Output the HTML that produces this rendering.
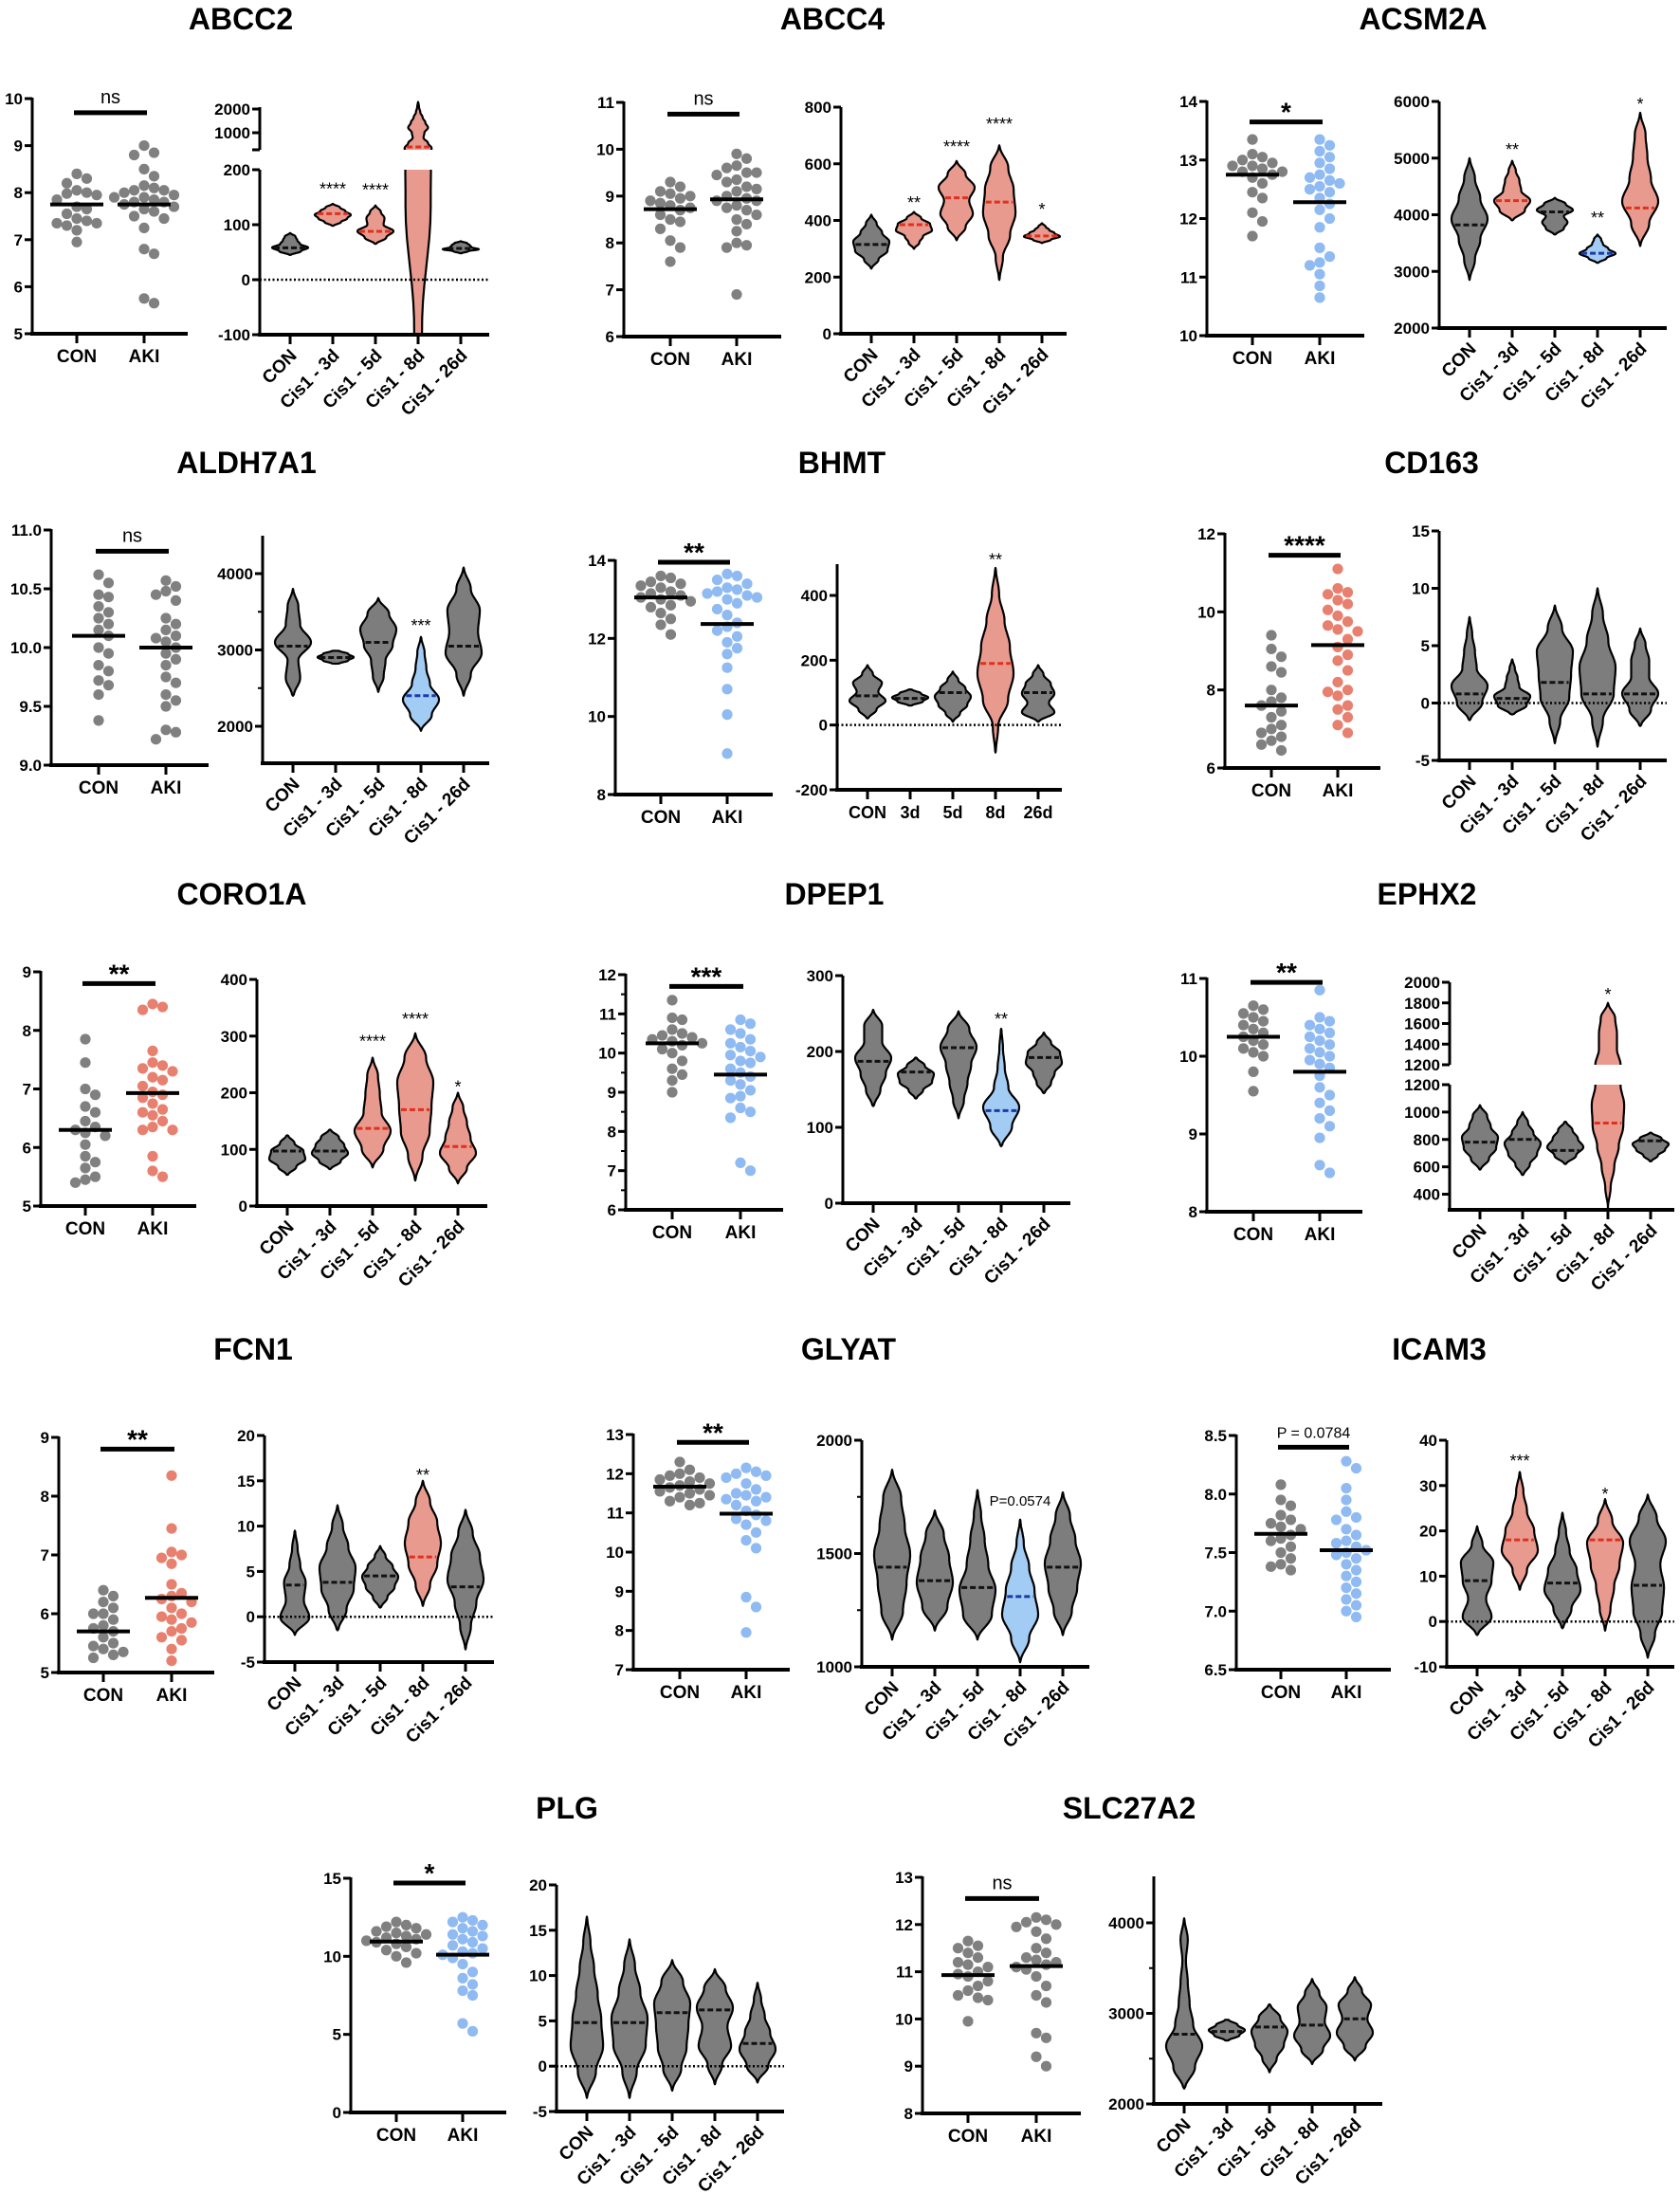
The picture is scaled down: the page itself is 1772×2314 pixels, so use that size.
<!DOCTYPE html>
<html><head><meta charset="utf-8"><title>Gene expression dot and violin plots</title>
<style>
html,body{margin:0;padding:0;background:#fff;}
svg{display:block;font-family:"Liberation Sans",Arial,sans-serif;}
</style></head>
<body>
<svg id="fig" xmlns="http://www.w3.org/2000/svg" width="1772" height="2314" viewBox="0 0 1772 2314">
<rect x="0" y="0" width="1772" height="2314" fill="#fff"/>
</svg>
<script>
// ===== DATA =====
const abcc2Con=[8.4,8.3,8.2,8.05,8.0,7.98,7.95,7.85,7.7,7.65,7.55,7.45,7.4,7.35,7.35,7.3,7.2,6.95];
const abcc2Aki=[9.0,8.85,8.8,8.5,8.35,8.15,8.1,8.05,8.05,8.0,7.95,7.9,7.9,7.85,7.8,7.8,7.75,7.7,7.65,7.6,7.5,7.45,7.25,6.8,6.7,5.75,5.65];
const abcc2Meds=[7.75,7.75];
const abcc2VLo=[45,98,65,-300,48];
const abcc2VHi=[85,138,135,2300,70];
const abcc2VMed=[58,120,88,400,57];
const abcc2VDen=[[0.05,0.6,1,0.55,0.4,0.3,0.02],[0.05,0.45,0.8,1,0.7,0.4,0.02],[0.05,0.6,1,0.45,0.5,0.3,0.02],[0.05,0.22,0.7,0.75,0.55,0.3,0.35,0.55,0.4,0.25,0.12,0.05,0.01],[0.05,0.4,1,0.6,0.5,0.35,0.02]];
const abcc2Stars=['','****','****','****',''];
const abcc2StarV=[0,170,168,2400,0];

const abcc4Con=[9.3,9.2,9.1,9.05,9.0,8.95,8.9,8.85,8.8,8.75,8.7,8.6,8.5,8.45,8.3,8.05,7.9,7.6];
const abcc4Aki=[9.9,9.8,9.65,9.6,9.5,9.5,9.45,9.35,9.3,9.2,9.15,9.1,9.0,8.95,8.9,8.9,8.8,8.75,8.7,8.6,8.5,8.4,8.25,8.0,7.95,7.9,6.9];
const abcc4Meds=[8.72,8.93];
const abcc4VLo=[230,300,330,190,320];
const abcc4VHi=[420,430,610,665,390];
const abcc4VMed=[315,385,480,465,345];
const abcc4VDen=[[0.02,0.4,0.9,1,0.6,0.3,0.02],[0.02,0.3,0.5,1,0.9,0.4,0.02],[0.02,0.5,0.9,0.7,1,0.5,0.02],[0.02,0.2,0.6,0.9,0.8,0.5,0.02],[0.02,0.5,1,0.7,0.4,0.2,0.02]];
const abcc4Stars=['','**','****','****','*'];
const abcc4StarV=[0,472,670,750,448];

const acsm2aCon=[13.35,13.1,13.05,13.0,12.95,12.9,12.9,12.85,12.8,12.8,12.75,12.7,12.6,12.45,12.35,12.1,11.95,11.7];
const acsm2aAki=[13.35,13.25,13.15,13.05,12.95,12.85,12.75,12.7,12.65,12.6,12.55,12.5,12.45,12.35,12.25,12.15,12.0,11.85,11.5,11.35,11.25,11.2,11.05,10.85,10.65];
const acsm2aMeds=[12.75,12.28];
const acsm2aVLo=[2850,3900,3650,3150,3450];
const acsm2aVHi=[5000,4950,4300,3650,5800];
const acsm2aVMed=[3820,4250,4050,3320,4120];
const acsm2aVDen=[[0.02,0.3,0.6,1,0.6,0.3,0.02],[0.05,0.7,1,0.5,0.4,0.2,0.02],[0.05,0.5,0.7,0.5,1,0.6,0.02],[0.05,0.5,1,0.6,0.3,0.2,0.02],[0.02,0.5,1,0.6,0.4,0.3,0.02]];
const acsm2aStars=['','**','','**','*'];
const acsm2aStarV=[0,5197,0,3990,6000];

const aldh7a1Con=[10.62,10.55,10.45,10.43,10.35,10.3,10.25,10.2,10.1,10.0,9.95,9.85,9.8,9.72,9.68,9.6,9.38,10.15];
const aldh7a1Aki=[10.57,10.52,10.48,10.45,10.4,10.25,10.2,10.15,10.1,10.08,10.05,10.0,9.95,9.9,9.85,9.75,9.7,9.6,9.55,9.5,9.3,9.28,9.22];
const aldh7a1Meds=[10.1,10.0];
const aldh7a1VLo=[2400,2820,2450,1940,2400];
const aldh7a1VHi=[3800,2990,3680,3170,4080];
const aldh7a1VMed=[3050,2900,3100,2400,3050];
const aldh7a1VDen=[[0.05,0.4,0.3,1,0.4,0.3,0.02],[0.2,0.7,1,0.7,0.2],[0.02,0.3,0.4,0.8,1,0.6,0.02],[0.02,0.6,1,0.5,0.3,0.2,0.02],[0.02,0.4,1,0.8,0.9,0.4,0.02]];
const aldh7a1Stars=['','','','***',''];
const aldh7a1StarV=[0,0,0,3354,0];

const bhmtCon=[13.6,13.55,13.45,13.4,13.35,13.3,13.2,13.15,13.1,13.05,13.0,12.95,12.85,12.8,12.65,12.5,12.35,12.1];
const bhmtAki=[13.65,13.6,13.5,13.4,13.3,13.25,13.2,13.15,13.1,13.05,13.0,12.9,12.75,12.6,12.4,12.3,12.2,12.05,11.9,11.75,11.6,11.25,10.7,10.05,9.05];
const bhmtMeds=[13.05,12.37];
const bhmtVLo=[20,60,10,-85,10];
const bhmtVHi=[185,110,165,485,185];
const bhmtVMed=[90,82,100,190,100];
const bhmtVDen=[[0.05,0.5,1,0.6,0.8,0.3,0.02],[0.1,0.7,1,0.6,0.1],[0.02,0.4,0.8,1,0.7,0.3,0.02],[0.02,0.15,0.7,1,0.8,0.5,0.2,0.02],[0.05,0.9,0.6,0.9,0.7,0.3,0.02]];
const bhmtStars=['','','','**',''];
const bhmtStarV=[0,0,0,518,0];

const cd163Con=[9.4,9.05,8.85,8.6,8.45,8.0,7.8,7.7,7.6,7.45,7.3,7.1,7.0,6.9,6.8,6.7,6.6,6.45];
const cd163Aki=[11.1,10.6,10.5,10.45,10.3,10.2,10.05,9.9,9.75,9.65,9.55,9.5,9.3,9.1,8.9,8.75,8.5,8.2,8.0,7.95,7.85,7.6,7.5,7.3,7.1,6.9];
const cd163Meds=[7.6,9.15];
const cd163VLo=[-1.5,-1,-3.5,-3.8,-2];
const cd163VHi=[7.5,3.8,8.5,10,6.5];
const cd163VMed=[0.8,0.4,1.8,0.8,0.8];
const cd163VDen=[[0.05,0.7,1,0.4,0.3,0.15,0.02],[0.1,0.8,1,0.4,0.3,0.15,0.02],[0.02,0.3,0.8,0.9,1,0.4,0.02],[0.02,0.3,0.9,1,0.6,0.3,0.02],[0.05,0.6,1,0.5,0.5,0.3,0.02]];
const cd163Stars=['','','','',''];
const cd163StarV=[0,0,0,0,0];

const coro1aCon=[7.85,7.45,7.0,6.9,6.7,6.6,6.45,6.35,6.3,6.25,6.2,6.05,5.85,5.75,5.65,5.5,5.45,5.4];
const coro1aAki=[8.45,8.4,8.35,7.65,7.45,7.4,7.35,7.3,7.2,7.15,7.05,6.95,6.9,6.85,6.75,6.65,6.6,6.55,6.45,6.35,6.3,6.3,5.85,5.6,5.5];
const coro1aMeds=[6.3,6.93];
const coro1aVLo=[55,65,68,45,40];
const coro1aVHi=[125,135,262,305,200];
const coro1aVMed=[97,97,137,170,105];
const coro1aVDen=[[0.05,0.5,1,0.9,0.4,0.05],[0.05,0.6,1,0.8,0.5,0.05],[0.02,0.6,1,0.5,0.4,0.3,0.02],[0.02,0.4,0.8,0.9,1,0.6,0.02],[0.02,0.5,1,0.7,0.5,0.3,0.02]];
const coro1aStars=['','','****','****','*'];
const coro1aStarV=[0,0,295,335,215];

const dpep1Con=[11.35,10.9,10.85,10.6,10.5,10.45,10.4,10.35,10.3,10.25,10.2,10.1,10.0,9.8,9.6,9.45,9.3,9.0];
const dpep1Aki=[10.85,10.75,10.6,10.5,10.35,10.25,10.15,10.05,9.95,9.9,9.8,9.75,9.6,9.5,9.4,9.3,9.2,9.05,8.9,8.85,8.6,8.5,8.35,7.2,7.0];
const dpep1Meds=[10.25,9.45];
const dpep1VLo=[128,138,112,75,145];
const dpep1VHi=[255,192,253,230,225];
const dpep1VMed=[187,173,205,122,192];
const dpep1VDen=[[0.05,0.4,0.7,1,0.5,0.5,0.02],[0.05,0.4,0.9,1,0.5,0.05],[0.02,0.3,0.5,0.7,1,0.6,0.02],[0.05,0.6,1,0.4,0.2,0.1,0.02],[0.05,0.4,0.6,1,0.9,0.4,0.02]];
const dpep1Stars=['','','','**',''];
const dpep1StarV=[0,0,0,246,0];

const ephx2Con=[10.65,10.6,10.55,10.5,10.45,10.4,10.35,10.3,10.25,10.2,10.15,10.1,10.05,10.0,9.8,9.55];
const ephx2Aki=[10.85,10.5,10.45,10.4,10.35,10.3,10.25,10.2,10.15,10.1,10.05,10.0,9.95,9.9,9.85,9.75,9.6,9.5,9.4,9.3,9.2,9.1,8.95,8.6,8.5];
const ephx2Meds=[10.25,9.8];
const ephx2VLo=[580,540,620,300,640];
const ephx2VHi=[1050,1000,930,1800,850];
const ephx2VMed=[780,800,720,920,790];
const ephx2VDen=[[0.05,0.5,0.9,1,0.6,0.4,0.02],[0.05,0.4,0.8,1,0.6,0.3,0.02],[0.05,0.6,1,0.7,0.4,0.05],[0.0,0.15,0.35,0.6,0.85,0.9,0.7,0.5,0.5,0.4,0.02],[0.05,0.4,0.8,1,0.6,0.05]];
const ephx2Stars=['','','','*',''];
const ephx2StarV=[0,0,0,1908,0];

const fcn1Con=[6.4,6.3,6.2,6.1,6.0,6.0,5.9,5.8,5.75,5.7,5.6,5.5,5.45,5.4,5.35,5.3,5.25];
const fcn1Aki=[8.35,7.45,7.05,7.0,6.95,6.85,6.5,6.35,6.3,6.25,6.2,6.1,6.0,5.95,5.9,5.85,5.75,5.7,5.6,5.55,5.4,5.2];
const fcn1Meds=[5.7,6.27];
const fcn1VLo=[-2,-1.5,1,1.2,-3.6];
const fcn1VHi=[9.5,12.3,7.8,15,11.8];
const fcn1VMed=[3.5,3.8,4.5,6.6,3.3];
const fcn1VDen=[[0.02,0.8,0.5,0.6,0.3,0.15,0.02],[0.05,0.5,0.9,1,0.6,0.3,0.02],[0.05,0.4,0.8,1,0.7,0.3,0.02],[0.02,0.4,0.8,1,0.8,0.4,0.02],[0.02,0.3,0.6,1,0.8,0.4,0.02]];
const fcn1Stars=['','','','**',''];
const fcn1StarV=[0,0,0,15.9,0];

const glyatCon=[12.3,12.1,12.0,11.95,11.9,11.85,11.8,11.75,11.7,11.65,11.6,11.55,11.5,11.45,11.4,11.3,11.25,11.2];
const glyatAki=[12.15,12.05,12.0,11.95,11.9,11.75,11.6,11.5,11.45,11.4,11.35,11.3,11.2,11.05,10.95,10.85,10.8,10.7,10.5,10.3,10.1,8.85,8.6,7.95];
const glyatMeds=[11.67,10.98];
const glyatVLo=[1120,1160,1120,1020,1140];
const glyatVHi=[1870,1690,1780,1650,1770];
const glyatVMed=[1440,1380,1350,1310,1440];
const glyatVDen=[[0.02,0.6,0.8,1,0.7,0.5,0.02],[0.02,0.7,1,0.8,0.5,0.02],[0.02,0.8,1,0.6,0.4,0.2,0.02],[0.02,0.5,1,0.8,0.5,0.2,0.02],[0.02,0.5,0.8,1,0.7,0.4,0.02]];
const glyatStars=['','','','P=0.0574',''];
const glyatStarV=[0,0,0,1732,0];

const icam3Con=[8.08,7.95,7.9,7.82,7.78,7.75,7.72,7.7,7.65,7.62,7.6,7.55,7.5,7.45,7.4,7.38,7.35];
const icam3Aki=[8.28,8.22,8.05,7.95,7.85,7.8,7.78,7.7,7.65,7.6,7.58,7.55,7.52,7.5,7.48,7.45,7.4,7.35,7.3,7.25,7.2,7.15,7.1,7.05,7.0,6.95];
const icam3Meds=[7.66,7.52];
const icam3VLo=[-3,7,-1.5,-2,-8];
const icam3VHi=[21,33,24,27,28];
const icam3VMed=[9,18,8.5,18,8];
const icam3VDen=[[0.05,0.8,0.5,0.8,0.9,0.3,0.02],[0.02,0.4,1,0.8,0.4,0.2,0.02],[0.05,0.5,1,0.8,0.4,0.2,0.02],[0.02,0.3,0.5,0.8,1,0.4,0.02],[0.02,0.4,0.8,0.9,0.7,1,0.5,0.02]];
const icam3Stars=['','***','','*',''];
const icam3StarV=[0,36,0,28.7,0];

const plgCon=[12.2,12.0,11.9,11.8,11.6,11.5,11.4,11.3,11.2,11.1,11.0,10.9,10.8,10.6,10.4,10.2,10.0,9.6];
const plgAki=[12.5,12.3,12.2,12.0,11.8,11.6,11.4,11.3,11.1,10.9,10.7,10.5,10.3,10.2,10.1,9.9,9.5,9.0,8.6,8.2,7.8,7.5,5.7,5.2];
const plgMeds=[10.95,10.1];
const plgVLo=[-3.5,-3.5,-2.7,-2,-1.8];
const plgVHi=[16.5,14,11.7,10.7,9.2];
const plgVMed=[4.8,4.8,5.9,6.2,2.5];
const plgVDen=[[0.02,0.5,0.9,0.8,0.6,0.4,0.2,0.02],[0.02,0.4,0.9,1,0.6,0.3,0.02],[0.02,0.5,0.8,0.9,1,0.6,0.02],[0.02,0.4,0.9,0.7,1,0.6,0.02],[0.02,0.6,1,0.7,0.4,0.2,0.02]];
const plgStars=['','','','',''];
const plgStarV=[0,0,0,0,0];

const slc27a2Con=[11.65,11.55,11.5,11.4,11.3,11.2,11.15,11.1,11.0,10.95,10.9,10.8,10.7,10.6,10.5,10.45,10.4,9.95];
const slc27a2Aki=[12.15,12.1,12.05,12.0,11.95,11.85,11.7,11.5,11.4,11.3,11.25,11.2,11.15,11.1,11.05,10.9,10.7,10.5,10.35,9.7,9.6,9.2,9.0];
const slc27a2Meds=[10.93,11.12];
const slc27a2VLo=[2170,2700,2350,2440,2480];
const slc27a2VHi=[4050,2930,3100,3380,3400];
const slc27a2VMed=[2770,2800,2850,2870,2940];
const slc27a2VDen=[[0.05,0.6,1,0.5,0.3,0.2,0.1,0.2,0.02],[0.1,0.7,1,0.6,0.1],[0.02,0.4,0.8,1,0.6,0.05],[0.02,0.6,1,0.7,0.8,0.4,0.02],[0.02,0.6,1,0.7,0.9,0.4,0.02]];
const slc27a2Stars=['','','','',''];
const slc27a2StarV=[0,0,0,0,0];

const catLabels=['CON','Cis1 - 3d','Cis1 - 5d','Cis1 - 8d','Cis1 - 26d'];
const catLabelsShort=['CON','3d','5d','8d','26d'];
const sigTexts=['ns','ns','*','ns','**','****','**','***','**','**','**','P = 0.0784','*','ns'];

// ===== LAYOUT =====
const COL={g:'#808080',b:'#8fbaf2',r:'#e8806f'};
const VFILL={g:'#7d7d7d',b:'#a3ccf5',r:'#e99a8f'};
const VMEDC={g:'#111',b:'#1c3aa6',r:'#e0301e'};
function T(a){return a.map(v=>[v,String(v)]);}
function TF(a){return a.map(v=>[v,v.toFixed(1)]);}

const PANELS=[
{n:'abcc2',title:'ABCC2',tx:254,ty:20,
 dot:{ax:34,xe:198,cx:[81,152],v0:5,v1:10,p0:352,p1:104,ticks:T([5,6,7,8,9,10]),minor:[],cols:['g','g'],bar:9.7},
 data:[abcc2Con,abcc2Aki,abcc2Meds,abcc2VLo,abcc2VHi,abcc2VMed,abcc2VDen,abcc2Stars,abcc2StarV],
 vio:{ax:274,xe:516,p0:353,segs:[{v0:-100,v1:200,p0:353,p1:179,cb:353,ct:179},{v0:280,v1:2000,p0:158,p1:115,cb:158,ct:95}],
  axis:[[353,179],[158,113]],ticks:[[-100,'-100'],[0,'0'],[100,'100'],[200,'200'],[1000,'1000'],[2000,'2000'],[280,'']],minor:[],zero:true,cols:'grrrg',labels:catLabels}},
{n:'abcc4',title:'ABCC4',tx:878,ty:20,
 dot:{ax:658,xe:824,cx:[707,777],v0:6,v1:11,p0:355,p1:108,ticks:T([6,7,8,9,10,11]),minor:[],cols:['g','g'],bar:10.75},
 data:[abcc4Con,abcc4Aki,abcc4Meds,abcc4VLo,abcc4VHi,abcc4VMed,abcc4VDen,abcc4Stars,abcc4StarV],
 vio:{ax:887,xe:1125,p0:352,segs:[{v0:0,v1:800,p0:352,p1:113,cb:352,ct:60}],axis:[[352,113]],ticks:T([0,200,400,600,800]),minor:[],zero:false,cols:'grrrr',labels:catLabels}},
{n:'acsm2a',title:'ACSM2A',tx:1501,ty:20,
 dot:{ax:1273,xe:1439,cx:[1321,1392],v0:10,v1:14,p0:354,p1:107,ticks:T([10,11,12,13,14]),minor:[],cols:['g','b'],bar:13.65},
 data:[acsm2aCon,acsm2aAki,acsm2aMeds,acsm2aVLo,acsm2aVHi,acsm2aVMed,acsm2aVDen,acsm2aStars,acsm2aStarV],
 vio:{ax:1518,xe:1758,p0:346,segs:[{v0:2000,v1:6000,p0:346,p1:107,cb:346,ct:60}],axis:[[346,107]],ticks:T([2000,3000,4000,5000,6000]),minor:[],zero:false,cols:'grgbr',labels:catLabels}},
{n:'aldh7a1',title:'ALDH7A1',tx:260,ty:488,
 dot:{ax:54,xe:220,cx:[104,175],v0:9,v1:11,p0:807,p1:559,ticks:TF([9,9.5,10,10.5,11]),minor:[],cols:['g','g'],bar:10.82},
 data:[aldh7a1Con,aldh7a1Aki,aldh7a1Meds,aldh7a1VLo,aldh7a1VHi,aldh7a1VMed,aldh7a1VDen,aldh7a1Stars,aldh7a1StarV],
 vio:{ax:277,xe:516,p0:805,segs:[{v0:2000,v1:4000,p0:766,p1:605,cb:805,ct:540}],axis:[[805,565]],ticks:T([2000,3000,4000]),minor:[2500,3500],zero:false,cols:'gggbg',labels:catLabels}},
{n:'bhmt',title:'BHMT',tx:888,ty:488,
 dot:{ax:649,xe:815,cx:[697,767],v0:8,v1:14,p0:838,p1:591,ticks:T([8,10,12,14]),minor:[],cols:['g','b'],bar:13.95},
 data:[bhmtCon,bhmtAki,bhmtMeds,bhmtVLo,bhmtVHi,bhmtVMed,bhmtVDen,bhmtStars,bhmtStarV],
 vio:{ax:883,xe:1120,p0:833,segs:[{v0:-200,v1:400,p0:833,p1:628,cb:833,ct:560}],axis:[[833,595]],ticks:T([-200,0,200,400]),minor:[],zero:true,cols:'gggrg',labels:catLabelsShort,flat:true}},
{n:'cd163',title:'CD163',tx:1510,ty:488,
 dot:{ax:1292,xe:1456,cx:[1341,1411],v0:6,v1:12,p0:810,p1:563,ticks:T([6,8,10,12]),minor:[],cols:['g','r'],bar:11.45},
 data:[cd163Con,cd163Aki,cd163Meds,cd163VLo,cd163VHi,cd163VMed,cd163VDen,cd163Stars,cd163StarV],
 vio:{ax:1518,xe:1758,p0:802,segs:[{v0:-5,v1:15,p0:802,p1:560,cb:802,ct:520}],axis:[[802,560]],ticks:T([-5,0,5,10,15]),minor:[],zero:true,cols:'ggggg',labels:catLabels}},
{n:'coro1a',title:'CORO1A',tx:255,ty:943,
 dot:{ax:43,xe:207,cx:[90,161],v0:5,v1:9,p0:1272,p1:1025,ticks:T([5,6,7,8,9]),minor:[],cols:['g','r'],bar:8.8},
 data:[coro1aCon,coro1aAki,coro1aMeds,coro1aVLo,coro1aVHi,coro1aVMed,coro1aVDen,coro1aStars,coro1aStarV],
 vio:{ax:271,xe:514,p0:1272,segs:[{v0:0,v1:400,p0:1272,p1:1033,cb:1272,ct:990}],axis:[[1272,1033]],ticks:T([0,100,200,300,400]),minor:[],zero:false,cols:'ggrrr',labels:catLabels}},
{n:'dpep1',title:'DPEP1',tx:880,ty:943,
 dot:{ax:660,xe:826,cx:[709,781],v0:6,v1:12,p0:1276,p1:1028,ticks:T([6,7,8,9,10,11,12]),minor:[6.5,7.5,8.5,9.5,10.5,11.5],cols:['g','b'],bar:11.7},
 data:[dpep1Con,dpep1Aki,dpep1Meds,dpep1VLo,dpep1VHi,dpep1VMed,dpep1VDen,dpep1Stars,dpep1StarV],
 vio:{ax:889,xe:1129,p0:1269,segs:[{v0:0,v1:300,p0:1269,p1:1029,cb:1269,ct:990}],axis:[[1269,1029]],ticks:T([0,100,200,300]),minor:[],zero:false,cols:'gggbg',labels:catLabels}},
{n:'ephx2',title:'EPHX2',tx:1505,ty:943,
 dot:{ax:1273,xe:1437,cx:[1322,1392],v0:8,v1:11,p0:1278,p1:1032,ticks:T([8,9,10,11]),minor:[],cols:['g','b'],bar:10.95},
 data:[ephx2Con,ephx2Aki,ephx2Meds,ephx2VLo,ephx2VHi,ephx2VMed,ephx2VDen,ephx2Stars,ephx2StarV],
 vio:{ax:1529,xe:1766,p0:1276,segs:[{v0:300,v1:1200,p0:1274,p1:1144,cb:1276,ct:1144},{v0:1200,v1:2000,p0:1123,p1:1036,cb:1123,ct:1000}],
  axis:[[1276,1144],[1123,1036]],ticks:T([400,600,800,1000,1200]).concat([[1200.0001,'1200'],[1400,'1400'],[1600,'1600'],[1800,'1800'],[2000,'2000']]),minor:[],zero:false,cols:'gggrg',labels:catLabels}},
{n:'fcn1',title:'FCN1',tx:267,ty:1423,
 dot:{ax:62,xe:226,cx:[109,181],v0:5,v1:9,p0:1764,p1:1516,ticks:T([5,6,7,8,9]),minor:[],cols:['g','r'],bar:8.8},
 data:[fcn1Con,fcn1Aki,fcn1Meds,fcn1VLo,fcn1VHi,fcn1VMed,fcn1VDen,fcn1Stars,fcn1StarV],
 vio:{ax:279,xe:521,p0:1753,segs:[{v0:-5,v1:20,p0:1753,p1:1514,cb:1753,ct:1470}],axis:[[1753,1514]],ticks:T([-5,0,5,10,15,20]),minor:[],zero:true,cols:'gggrg',labels:catLabels}},
{n:'glyat',title:'GLYAT',tx:895,ty:1423,
 dot:{ax:668,xe:833,cx:[717,787],v0:7,v1:13,p0:1761,p1:1513,ticks:T([7,8,9,10,11,12,13]),minor:[],cols:['g','b'],bar:12.8},
 data:[glyatCon,glyatAki,glyatMeds,glyatVLo,glyatVHi,glyatVMed,glyatVDen,glyatStars,glyatStarV],
 vio:{ax:909,xe:1149,p0:1758,segs:[{v0:1000,v1:2000,p0:1758,p1:1519,cb:1758,ct:1470}],axis:[[1758,1519]],ticks:T([1000,1500,2000]),minor:[1250,1750],zero:false,cols:'gggbg',labels:catLabels}},
{n:'icam3',title:'ICAM3',tx:1518,ty:1423,
 dot:{ax:1304,xe:1467,cx:[1351,1420],v0:6.5,v1:8.5,p0:1761,p1:1514,ticks:TF([6.5,7,7.5,8,8.5]),minor:[],cols:['g','b'],bar:8.4},
 data:[icam3Con,icam3Aki,icam3Meds,icam3VLo,icam3VHi,icam3VMed,icam3VDen,icam3Stars,icam3StarV],
 vio:{ax:1526,xe:1766,p0:1758,segs:[{v0:-10,v1:40,p0:1758,p1:1519,cb:1758,ct:1470}],axis:[[1758,1519]],ticks:T([-10,0,10,20,30,40]),minor:[],zero:true,cols:'grgrg',labels:catLabels}},
{n:'plg',title:'PLG',tx:598,ty:1907,
 dot:{ax:370,xe:534,cx:[418,488],v0:0,v1:15,p0:2228,p1:1981,ticks:T([0,5,10,15]),minor:[],cols:['g','b'],bar:14.7},
 data:[plgCon,plgAki,plgMeds,plgVLo,plgVHi,plgVMed,plgVDen,plgStars,plgStarV],
 vio:{ax:587,xe:827,p0:2227,segs:[{v0:-5,v1:20,p0:2227,p1:1988,cb:2227,ct:1950}],axis:[[2227,1988]],ticks:T([-5,0,5,10,15,20]),minor:[],zero:true,cols:'ggggg',labels:catLabels}},
{n:'slc27a2',title:'SLC27A2',tx:1191,ty:1907,
 dot:{ax:973,xe:1140,cx:[1021,1093],v0:8,v1:13,p0:2229,p1:1980,ticks:T([8,9,10,11,12,13]),minor:[],cols:['g','g'],bar:12.55},
 data:[slc27a2Con,slc27a2Aki,slc27a2Meds,slc27a2VLo,slc27a2VHi,slc27a2VMed,slc27a2VDen,slc27a2Stars,slc27a2StarV],
 vio:{ax:1217,xe:1458,p0:2219,segs:[{v0:2000,v1:4000,p0:2219,p1:2028,cb:2219,ct:1950}],axis:[[2219,1979]],ticks:T([2000,3000,4000]),minor:[2500,3500],zero:false,cols:'ggggg',labels:catLabels}}
];

// ===== DRAWING =====
const NS='http://www.w3.org/2000/svg';
const svg=document.getElementById('fig');
function mk(tag,attrs,parent){const e=document.createElementNS(NS,tag);for(const k in attrs)e.setAttribute(k,attrs[k]);parent.appendChild(e);return e;}
function lin(v0,v1,p0,p1){return v=>p0+(v-v0)*(p1-p0)/(v1-v0);}
function segFor(segs,v){for(const s of segs){if(v>=s.v0&&v<=s.v1)return s;}return segs[0];}
function densAt(den,lo,hi,v){const n=den.length;let t=(v-lo)/(hi-lo)*(n-1);if(t<=0)return den[0]*0.3;if(t>=n-1)return den[n-1]*0.3;const i=Math.floor(t),f=t-i;const c=(1-Math.cos(f*Math.PI))/2;return den[i]*(1-c)+den[i+1]*c;}
let clipId=0;
const HW=19;

PANELS.forEach((P,pi)=>{
  const [conV,akiV,meds,vLo,vHi,vMed,vDen,stars,starV]=P.data;
  const g=mk('g',{},svg);
  
  
  const t=mk('text',{x:P.tx,y:P.ty+11,'text-anchor':'middle','font-size':32,'font-weight':'bold',fill:'#000'},g);
  t.textContent=P.title;
  
  

  // ---- dot plot ----
  const D=P.dot;const y=lin(D.v0,D.v1,D.p0,D.p1);
  const dg=mk('g',{},g);
  
  
  const ya=mk('line',{x1:D.ax,y1:D.p1-1,x2:D.ax,y2:D.p0,stroke:'#000','stroke-width':3},dg);
  
  
  D.ticks.forEach(([v,l])=>{
    const ty=y(v);
    const tk=mk('line',{x1:D.ax-8,y1:ty,x2:D.ax,y2:ty,stroke:'#000','stroke-width':3},dg);
    
    
    const tl=mk('text',{x:D.ax-10,y:ty+6,'text-anchor':'end','font-size':17,'font-weight':'bold'},dg);
    tl.textContent=l;
    
    
  });
  D.minor.forEach(v=>{
    const tk=mk('line',{x1:D.ax-5,y1:y(v),x2:D.ax,y2:y(v),stroke:'#000','stroke-width':2},dg);
    
    
  });
  const xa=mk('line',{x1:D.ax-2,y1:D.p0,x2:D.xe,y2:D.p0,stroke:'#000','stroke-width':4},dg);
  
  
  ['CON','AKI'].forEach((lab,k)=>{
    const cx=D.cx[k];
    const tk=mk('line',{x1:cx,y1:D.p0,x2:cx,y2:D.p0+10,stroke:'#000','stroke-width':3},dg);
    
    
    const tl=mk('text',{x:cx,y:D.p0+30,'text-anchor':'middle','font-size':19,'font-weight':'bold'},dg);
    tl.textContent=lab;
    
    
    const vals=(k===0?conV:akiV).slice().sort((a,b)=>b-a);
    const placed=[];
    vals.forEach(v=>{
      const py=y(v);let px=cx;
      for(let s=0;s<12;s++){
        const off=(s===0?0:(s%2?1:-1)*Math.ceil(s/2))*10.5;
        const ok=placed.every(p=>Math.hypot(p[0]-(cx+off),p[1]-py)>=10.5);
        if(ok){px=cx+off;break;}
      }
      placed.push([px,py]);
      const c=mk('circle',{cx:px,cy:py,r:5.6,fill:COL[D.cols[k]]},dg);
      
      
    });
    const ml=mk('line',{x1:cx-28,y1:y(meds[k]),x2:cx+28,y2:y(meds[k]),stroke:'#000','stroke-width':4},dg);
    
    
  });
  const by=y(D.bar);
  const sb=mk('line',{x1:D.cx[0]-3,y1:by,x2:D.cx[1]+3,y2:by,stroke:'#000','stroke-width':5},dg);
  
  
  const stxt=sigTexts[pi];
  const isStar=stxt.indexOf('*')===0;
  const st=mk('text',{x:(D.cx[0]+D.cx[1])/2,y:isStar?by-1:by-10,'text-anchor':'middle','font-size':isStar?28:(stxt==='ns'?20:16),'font-weight':isStar?'bold':'normal'},dg);
  st.textContent=stxt;
  
  

  // ---- violin plot ----
  const V=P.vio;
  const vg=mk('g',{},g);
  
  
  const segs=V.segs.map(s=>Object.assign({},s,{f:lin(s.v0,s.v1,s.p0,s.p1)}));
  const vy=v=>segFor(segs,v).f(v);
  const cats=[0,1,2,3,4].map(i=>V.ax+32+45*i);
  for(let i=0;i<5;i++){
    const lo=vLo[i],hi=vHi[i],den=vDen[i],cx=cats[i],ck=V.cols[i];
    segs.forEach(s=>{
      const id='clip'+(clipId++);
      const cp=mk('clipPath',{id:id},vg);
      mk('rect',{x:cx-40,y:s.ct,width:80,height:s.cb-s.ct},cp);
      const N=90;const L=[],R=[];
      for(let k=0;k<=N;k++){
        const v=lo+(hi-lo)*k/N;const w=(k===0||k===N)?0:densAt(den,lo,hi,v)*HW;
        const py=s.f(v);L.push([cx-w,py]);R.push([cx+w,py]);
      }
      const pts=L.concat(R.reverse()).map(p=>p[0].toFixed(1)+','+p[1].toFixed(1)).join(' ');
      const pg=mk('polygon',{points:pts,fill:VFILL[ck],stroke:'#000','stroke-width':2.2,'stroke-linejoin':'round','clip-path':'url(#'+id+')'},vg);
      
      
    });
    const m=vMed[i];const mw=Math.max(densAt(den,lo,hi,m)*HW-2,4);
    const md=mk('line',{x1:cx-mw,y1:vy(m),x2:cx+mw,y2:vy(m),stroke:VMEDC[ck],'stroke-width':3,'stroke-dasharray':'6,3'},vg);
    
    
    if(stars[i]){
      const isP=stars[i].indexOf('P')===0;
      const sl=mk('text',{x:cx,y:vy(starV[i])+(isP?5:9),'text-anchor':'middle','font-size':isP?15:18},vg);
      sl.textContent=stars[i];
      
      
    }
  }
  V.axis.forEach(([a,b])=>{
    const al=mk('line',{x1:V.ax,y1:a,x2:V.ax,y2:b,stroke:'#000','stroke-width':3},vg);
    
    
  });
  V.ticks.forEach(([v,l])=>{
    const ty=vy(v);
    const tk=mk('line',{x1:V.ax-8,y1:ty,x2:V.ax,y2:ty,stroke:'#000','stroke-width':3},vg);
    
    
    if(l){
      const tl=mk('text',{x:V.ax-10,y:ty+6,'text-anchor':'end','font-size':17,'font-weight':'bold'},vg);
      tl.textContent=l;
      
      
    }
  });
  V.minor.forEach(v=>{
    const tk=mk('line',{x1:V.ax-5,y1:vy(v),x2:V.ax,y2:vy(v),stroke:'#000','stroke-width':2},vg);
    
    
  });
  const vx=mk('line',{x1:V.ax-2,y1:V.p0,x2:V.xe,y2:V.p0,stroke:'#000','stroke-width':4},vg);
  
  
  if(V.zero){
    const z=vy(0);
    const zl=mk('line',{x1:V.ax,y1:z,x2:V.xe,y2:z,stroke:'#000','stroke-width':2.5,'stroke-dasharray':'2,2.5'},vg);
    
    
  }
  cats.forEach((cx,i)=>{
    const tk=mk('line',{x1:cx,y1:V.p0,x2:cx,y2:V.p0+10,stroke:'#000','stroke-width':3},vg);
    
    
    let tl;
    if(V.flat){
      tl=mk('text',{x:cx,y:V.p0+30,'text-anchor':'middle','font-size':18,'font-weight':'bold'},vg);
    }else{
      tl=mk('text',{x:0,y:0,'text-anchor':'end','font-size':19,'font-weight':'bold',transform:'translate('+(cx+8)+','+(V.p0+23)+') rotate(-45)'},vg);
    }
    tl.textContent=V.labels[i];
    
    
  });
});
</script>
</body></html>
